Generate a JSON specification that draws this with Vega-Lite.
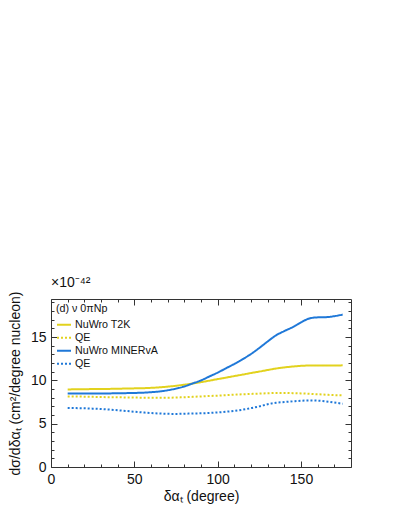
{
  "$schema": "https://vega.github.io/schema/vega-lite/v6.json",
  "width": 300,
  "height": 168,
  "autosize": {"type": "none"},
  "padding": {"left": 51, "top": 299, "right": 42, "bottom": 42},
  "title": {"text": "×10⁻⁴²", "anchor": "start", "frame": "group", "fontSize": 14, "fontWeight": "normal", "font": "Liberation Sans", "color": "#111", "offset": 1},
  "config": {
    "font": "Liberation Sans",
    "view": {"stroke": "#333", "strokeWidth": 1},
    "axis": {"grid": false, "domain": false, "labelFont": "Liberation Sans", "titleFont": "Liberation Sans", "labelColor": "#111", "titleColor": "#111", "tickColor": "#333", "labelFlush": false, "labelOverlap": false}
  },
  "datasets": {
    "curves": [
      {"x":10,"y":8.96,"s":"T2K"},{"x":15,"y":8.97,"s":"T2K"},{"x":20,"y":8.98,"s":"T2K"},{"x":25,"y":9.0,"s":"T2K"},{"x":30,"y":9.01,"s":"T2K"},{"x":35,"y":9.02,"s":"T2K"},{"x":40,"y":9.04,"s":"T2K"},{"x":45,"y":9.06,"s":"T2K"},{"x":50,"y":9.08,"s":"T2K"},{"x":55,"y":9.1,"s":"T2K"},{"x":60,"y":9.14,"s":"T2K"},{"x":65,"y":9.2,"s":"T2K"},{"x":70,"y":9.28,"s":"T2K"},{"x":75,"y":9.38,"s":"T2K"},{"x":80,"y":9.5,"s":"T2K"},{"x":85,"y":9.64,"s":"T2K"},{"x":90,"y":9.8,"s":"T2K"},{"x":95,"y":9.97,"s":"T2K"},{"x":100,"y":10.15,"s":"T2K"},{"x":105,"y":10.32,"s":"T2K"},{"x":110,"y":10.5,"s":"T2K"},{"x":115,"y":10.67,"s":"T2K"},{"x":120,"y":10.85,"s":"T2K"},{"x":125,"y":11.02,"s":"T2K"},{"x":130,"y":11.2,"s":"T2K"},{"x":135,"y":11.37,"s":"T2K"},{"x":140,"y":11.5,"s":"T2K"},{"x":145,"y":11.6,"s":"T2K"},{"x":150,"y":11.68,"s":"T2K"},{"x":155,"y":11.72,"s":"T2K"},{"x":160,"y":11.73,"s":"T2K"},{"x":165,"y":11.72,"s":"T2K"},{"x":170,"y":11.72,"s":"T2K"},{"x":175,"y":11.74,"s":"T2K"},
      {"x":10,"y":8.15,"s":"T2K QE"},{"x":15,"y":8.14,"s":"T2K QE"},{"x":20,"y":8.12,"s":"T2K QE"},{"x":25,"y":8.1,"s":"T2K QE"},{"x":30,"y":8.08,"s":"T2K QE"},{"x":35,"y":8.06,"s":"T2K QE"},{"x":40,"y":8.05,"s":"T2K QE"},{"x":45,"y":8.03,"s":"T2K QE"},{"x":50,"y":8.02,"s":"T2K QE"},{"x":55,"y":8.0,"s":"T2K QE"},{"x":60,"y":8.0,"s":"T2K QE"},{"x":65,"y":8.0,"s":"T2K QE"},{"x":70,"y":8.0,"s":"T2K QE"},{"x":75,"y":8.02,"s":"T2K QE"},{"x":80,"y":8.06,"s":"T2K QE"},{"x":85,"y":8.1,"s":"T2K QE"},{"x":90,"y":8.15,"s":"T2K QE"},{"x":95,"y":8.2,"s":"T2K QE"},{"x":100,"y":8.24,"s":"T2K QE"},{"x":105,"y":8.3,"s":"T2K QE"},{"x":110,"y":8.35,"s":"T2K QE"},{"x":115,"y":8.4,"s":"T2K QE"},{"x":120,"y":8.44,"s":"T2K QE"},{"x":125,"y":8.48,"s":"T2K QE"},{"x":130,"y":8.52,"s":"T2K QE"},{"x":135,"y":8.55,"s":"T2K QE"},{"x":140,"y":8.55,"s":"T2K QE"},{"x":145,"y":8.53,"s":"T2K QE"},{"x":150,"y":8.5,"s":"T2K QE"},{"x":155,"y":8.45,"s":"T2K QE"},{"x":160,"y":8.4,"s":"T2K QE"},{"x":165,"y":8.35,"s":"T2K QE"},{"x":170,"y":8.3,"s":"T2K QE"},{"x":175,"y":8.28,"s":"T2K QE"},
      {"x":10,"y":8.5,"s":"MINERvA"},{"x":15,"y":8.5,"s":"MINERvA"},{"x":20,"y":8.5,"s":"MINERvA"},{"x":25,"y":8.5,"s":"MINERvA"},{"x":30,"y":8.5,"s":"MINERvA"},{"x":35,"y":8.5,"s":"MINERvA"},{"x":40,"y":8.52,"s":"MINERvA"},{"x":45,"y":8.53,"s":"MINERvA"},{"x":50,"y":8.55,"s":"MINERvA"},{"x":55,"y":8.58,"s":"MINERvA"},{"x":60,"y":8.64,"s":"MINERvA"},{"x":65,"y":8.72,"s":"MINERvA"},{"x":70,"y":8.86,"s":"MINERvA"},{"x":75,"y":9.05,"s":"MINERvA"},{"x":80,"y":9.3,"s":"MINERvA"},{"x":85,"y":9.65,"s":"MINERvA"},{"x":90,"y":10.0,"s":"MINERvA"},{"x":95,"y":10.45,"s":"MINERvA"},{"x":100,"y":10.9,"s":"MINERvA"},{"x":105,"y":11.4,"s":"MINERvA"},{"x":110,"y":11.9,"s":"MINERvA"},{"x":115,"y":12.45,"s":"MINERvA"},{"x":120,"y":13.05,"s":"MINERvA"},{"x":125,"y":13.75,"s":"MINERvA"},{"x":130,"y":14.5,"s":"MINERvA"},{"x":135,"y":15.2,"s":"MINERvA"},{"x":140,"y":15.7,"s":"MINERvA"},{"x":145,"y":16.15,"s":"MINERvA"},{"x":150,"y":16.7,"s":"MINERvA"},{"x":155,"y":17.15,"s":"MINERvA"},{"x":160,"y":17.28,"s":"MINERvA"},{"x":165,"y":17.3,"s":"MINERvA"},{"x":170,"y":17.42,"s":"MINERvA"},{"x":175,"y":17.6,"s":"MINERvA"},
      {"x":10,"y":6.82,"s":"MINERvA QE"},{"x":15,"y":6.8,"s":"MINERvA QE"},{"x":20,"y":6.78,"s":"MINERvA QE"},{"x":25,"y":6.74,"s":"MINERvA QE"},{"x":30,"y":6.7,"s":"MINERvA QE"},{"x":35,"y":6.63,"s":"MINERvA QE"},{"x":40,"y":6.55,"s":"MINERvA QE"},{"x":45,"y":6.47,"s":"MINERvA QE"},{"x":50,"y":6.38,"s":"MINERvA QE"},{"x":55,"y":6.3,"s":"MINERvA QE"},{"x":60,"y":6.23,"s":"MINERvA QE"},{"x":65,"y":6.18,"s":"MINERvA QE"},{"x":70,"y":6.14,"s":"MINERvA QE"},{"x":75,"y":6.13,"s":"MINERvA QE"},{"x":80,"y":6.15,"s":"MINERvA QE"},{"x":85,"y":6.18,"s":"MINERvA QE"},{"x":90,"y":6.2,"s":"MINERvA QE"},{"x":95,"y":6.24,"s":"MINERvA QE"},{"x":100,"y":6.3,"s":"MINERvA QE"},{"x":105,"y":6.38,"s":"MINERvA QE"},{"x":110,"y":6.48,"s":"MINERvA QE"},{"x":115,"y":6.62,"s":"MINERvA QE"},{"x":120,"y":6.8,"s":"MINERvA QE"},{"x":125,"y":7.0,"s":"MINERvA QE"},{"x":130,"y":7.25,"s":"MINERvA QE"},{"x":135,"y":7.42,"s":"MINERvA QE"},{"x":140,"y":7.5,"s":"MINERvA QE"},{"x":145,"y":7.58,"s":"MINERvA QE"},{"x":150,"y":7.65,"s":"MINERvA QE"},{"x":155,"y":7.68,"s":"MINERvA QE"},{"x":160,"y":7.66,"s":"MINERvA QE"},{"x":165,"y":7.58,"s":"MINERvA QE"},{"x":170,"y":7.45,"s":"MINERvA QE"},{"x":175,"y":7.3,"s":"MINERvA QE"}
    ]
  },
  "data": {"name": "curves"},
  "layer": [
    {
      "mark": {"type": "line", "strokeWidth": 2, "clip": true, "interpolate": "monotone"},
      "encoding": {
        "x": {"field": "x", "type": "quantitative", "scale": {"domain": [0, 180], "nice": false},
              "axis": {"orient": "bottom", "values": [0, 50, 100, 150], "ticks": false, "labelPadding": 5, "labelFontSize": 14, "title": "δαₜ (degree)", "titleFontSize": 14, "titleFontWeight": "normal", "titlePadding": 3}},
        "y": {"field": "y", "type": "quantitative", "scale": {"domain": [0, 19.4], "nice": false},
              "axis": {"orient": "left", "values": [0, 5, 10, 15], "ticks": false, "labelPadding": 5, "labelFontSize": 14, "title": "dσ/dδαₜ (cm²/degree nucleon)", "titleFontSize": 14, "titleFontWeight": "normal", "titlePadding": 8}},
        "color": {"field": "s", "type": "nominal",
                  "scale": {"domain": ["T2K", "T2K QE", "MINERvA", "MINERvA QE"], "range": ["#e2d21e", "#e2d21e", "#1f78d8", "#1f78d8"]},
                  "legend": {"orient": "top-left", "offset": 5, "padding": 0, "title": "(d) ν 0πNp", "titleFontSize": 10.7, "titleFontWeight": "normal", "titleColor": "#111", "titlePadding": 2, "labelFontSize": 10.7, "labelColor": "#111", "labelOffset": 3, "symbolType": "stroke", "symbolSize": 196, "symbolStrokeWidth": 2, "rowPadding": 0,
                             "labelExpr": "indexof(datum.label, 'QE') >= 0 ? 'QE' : 'NuWro ' + datum.label"}},
        "strokeDash": {"field": "s", "type": "nominal",
                  "scale": {"domain": ["T2K", "T2K QE", "MINERvA", "MINERvA QE"], "range": [[1, 0], [2, 2], [1, 0], [2, 2]]},
                  "legend": {"orient": "top-left", "offset": 5, "padding": 0, "title": "(d) ν 0πNp", "titleFontSize": 10.7, "titleFontWeight": "normal", "titleColor": "#111", "titlePadding": 2, "labelFontSize": 10.7, "labelColor": "#111", "labelOffset": 3, "symbolType": "stroke", "symbolSize": 196, "symbolStrokeWidth": 2, "rowPadding": 0,
                             "labelExpr": "indexof(datum.label, 'QE') >= 0 ? 'QE' : 'NuWro ' + datum.label"}}
      }
    },
    {
      "mark": {"type": "point", "opacity": 0},
      "encoding": {
        "x": {"field": "x", "type": "quantitative", "scale": {"domain": [0, 180], "nice": false},
              "axis": {"orient": "bottom", "values": [0, 50, 100, 150], "labels": false, "tickSize": -6, "title": null}},
        "y": {"field": "y", "type": "quantitative", "scale": {"domain": [0, 19.4], "nice": false},
              "axis": {"orient": "left", "values": [0, 5, 10, 15], "labels": false, "tickSize": -6, "title": null}}
      }
    },
    {
      "mark": {"type": "point", "opacity": 0},
      "encoding": {
        "x": {"field": "x", "type": "quantitative", "scale": {"domain": [0, 180], "nice": false},
              "axis": {"orient": "bottom", "values": [10, 20, 30, 40, 60, 70, 80, 90, 110, 120, 130, 140, 160, 170], "labels": false, "tickSize": -3, "title": null}},
        "y": {"field": "y", "type": "quantitative", "scale": {"domain": [0, 19.4], "nice": false},
              "axis": {"orient": "left", "values": [1, 2, 3, 4, 6, 7, 8, 9, 11, 12, 13, 14, 16, 17, 18, 19], "labels": false, "tickSize": -3, "title": null}}
      }
    },
    {
      "mark": {"type": "point", "opacity": 0},
      "encoding": {
        "x": {"field": "x", "type": "quantitative", "scale": {"domain": [0, 180], "nice": false},
              "axis": {"orient": "top", "values": [0, 50, 100, 150], "labels": false, "tickSize": -6, "title": null}},
        "y": {"field": "y", "type": "quantitative", "scale": {"domain": [0, 19.4], "nice": false},
              "axis": {"orient": "right", "values": [0, 5, 10, 15], "labels": false, "tickSize": -6, "title": null}}
      }
    },
    {
      "mark": {"type": "point", "opacity": 0},
      "encoding": {
        "x": {"field": "x", "type": "quantitative", "scale": {"domain": [0, 180], "nice": false},
              "axis": {"orient": "top", "values": [10, 20, 30, 40, 60, 70, 80, 90, 110, 120, 130, 140, 160, 170], "labels": false, "tickSize": -3, "title": null}},
        "y": {"field": "y", "type": "quantitative", "scale": {"domain": [0, 19.4], "nice": false},
              "axis": {"orient": "right", "values": [1, 2, 3, 4, 6, 7, 8, 9, 11, 12, 13, 14, 16, 17, 18, 19], "labels": false, "tickSize": -3, "title": null}}
      }
    }
  ],
  "resolve": {"axis": {"x": "independent", "y": "independent"}}
}
